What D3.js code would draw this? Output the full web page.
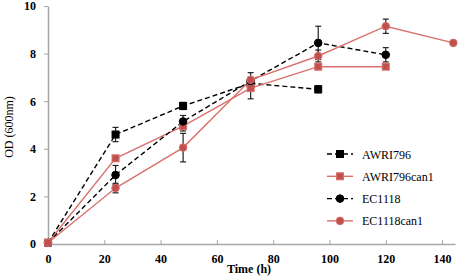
<!DOCTYPE html>
<html>
<head>
<meta charset="utf-8">
<script src="https://cdn.jsdelivr.net/npm/d3@7"></script>
<style>
  body { margin: 0; background: #fff; }
  text { font-family: "Liberation Serif", "DejaVu Serif", serif; }
</style>
</head>
<body>
<div id="chart"></div>
<script>
const times = [0, 24, 48, 72, 96, 120, 144];

const awri796 = [0.05, 4.6, 5.8, 6.75, 6.5];
const awri796Err = [0, 0.3, 0.15, 0.2, 0.15];
const awri796can1 = [0.05, 3.6, 4.95, 6.55, 7.45, 7.45];
const awri796can1Err = [0, 0.1, 0.2, 0.45, 0.1, 0.1];
const ec1118 = [0.05, 2.9, 5.15, 6.85, 8.45, 7.95];
const ec1118Err = [0, 0.4, 0.25, 0.15, 0.7, 0.3];
const ec1118can1 = [0.05, 2.35, 4.05, 6.9, 7.9, 9.15, 8.45];
const ec1118can1Err = [0, 0.2, 0.6, 0.3, 0.25, 0.3, 0.05];

const xTicks = [0, 20, 40, 60, 80, 100, 120, 140];
const yTicks = [0, 2, 4, 6, 8, 10];

const series = [
  {name: "AWRI796", values: awri796, err: awri796Err, color: "#000", line: "#000", dash: "5,3", shape: "square"},
  {name: "AWRI796can1", values: awri796can1, err: awri796can1Err, color: "#c0504d", line: "#d9716d", dash: null, shape: "square"},
  {name: "EC1118", values: ec1118, err: ec1118Err, color: "#000", line: "#000", dash: "5,3", shape: "circle"},
  {name: "EC1118can1", values: ec1118can1, err: ec1118can1Err, color: "#c0504d", line: "#d9716d", dash: null, shape: "circle"}
];

const width = 461, height = 277;
const margin = {top: 6, right: 6, bottom: 33, left: 48};

const svg = d3.select("#chart").append("svg")
  .attr("width", width).attr("height", height);

const x = d3.scaleLinear().domain([0, 144.6]).range([margin.left, width - margin.right]);
const y = d3.scaleLinear().domain([0, 10]).range([height - margin.bottom, margin.top]);

// axes
const xAxis = svg.append("g")
  .attr("transform", "translate(0," + y(0) + ")")
  .call(d3.axisBottom(x).tickValues(xTicks).tickSize(-4).tickPadding(10).tickSizeOuter(0));
const yAxis = svg.append("g")
  .attr("transform", "translate(" + x(0) + ",0)")
  .call(d3.axisLeft(y).tickValues(yTicks).tickSize(4).tickPadding(8).tickSizeOuter(0));

[xAxis, yAxis].forEach(function(a) {
  a.select(".domain").attr("stroke", "#a6a6a6").attr("stroke-width", 1.5);
  a.selectAll(".tick line").attr("stroke", "#a6a6a6").attr("stroke-width", 1);
  a.selectAll(".tick text").attr("fill", "#000").style("font-size", "12px").style("font-weight", "bold")
    .style("font-family", "'Liberation Serif', serif");
});

// axis titles
svg.append("text")
  .attr("x", 249).attr("y", 273)
  .attr("text-anchor", "middle")
  .style("font-size", "12px").style("font-weight", "bold")
  .text("Time (h)");
svg.append("text")
  .attr("transform", "translate(13," + (y(5) + 2) + ") rotate(-90)")
  .attr("text-anchor", "middle")
  .style("font-size", "12px")
  .text("OD (600nm)");

const line = d3.line()
  .x(function(d, i) { return x(times[i]); })
  .y(function(d) { return y(d); });

function drawMarker(g, shape, cx, cy, color) {
  const edge = color === "#000" ? "#000" : "#d9716d";
  if (shape === "square") {
    g.append("rect")
      .attr("x", cx - 3.5).attr("y", cy - 3.5)
      .attr("width", 7).attr("height", 7)
      .attr("fill", color)
      .attr("stroke", edge).attr("stroke-width", 1);
  } else {
    g.append("circle")
      .attr("cx", cx).attr("cy", cy).attr("r", 3.8)
      .attr("fill", color)
      .attr("stroke", edge).attr("stroke-width", 1);
  }
}

// lines first
series.forEach(function(s) {
  svg.append("path")
    .datum(s.values)
    .attr("d", line)
    .attr("fill", "none")
    .attr("stroke", s.line)
    .attr("stroke-width", 1.4)
    .attr("stroke-dasharray", s.dash);
});

// error bars
series.forEach(function(s) {
  const g = svg.append("g");
  s.values.forEach(function(v, i) {
    const e = s.err[i];
    if (!e) return;
    const cx = x(times[i]);
    g.append("line").attr("x1", cx).attr("x2", cx).attr("y1", y(v - e)).attr("y2", y(v + e))
      .attr("stroke", "#222").attr("stroke-width", 1.2);
    [v - e, v + e].forEach(function(b) {
      g.append("line").attr("x1", cx - 3).attr("x2", cx + 3).attr("y1", y(b)).attr("y2", y(b))
        .attr("stroke", "#222").attr("stroke-width", 1.2);
    });
  });
});

// markers
series.forEach(function(s) {
  const g = svg.append("g");
  s.values.forEach(function(v, i) {
    drawMarker(g, s.shape, x(times[i]), y(v), s.color);
  });
});

// legend
const legend = svg.append("g");
series.forEach(function(s, i) {
  const ly = 154 + i * 22.3;
  legend.append("line")
    .attr("x1", 327).attr("x2", 353).attr("y1", ly).attr("y2", ly)
    .attr("stroke", s.line).attr("stroke-width", 1.4)
    .attr("stroke-dasharray", s.dash);
  drawMarker(legend, s.shape, 340, ly, s.color);
  legend.append("text")
    .attr("x", 362).attr("y", ly + 4.5)
    .style("font-size", "12px")
    .text(s.name);
});
</script>
</body>
</html>
